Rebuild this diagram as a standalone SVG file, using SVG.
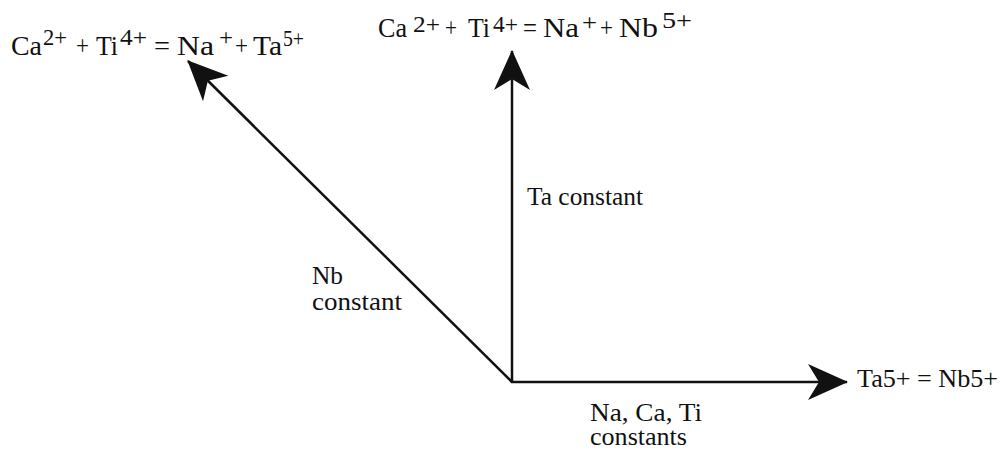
<svg xmlns="http://www.w3.org/2000/svg" width="1004" height="450" viewBox="0 0 1004 450">
<style>
text{font-family:"Liberation Serif","Times New Roman",serif;font-size:28px;fill:#111}
.sup{font-size:24px}
.sup2{font-size:23px}
.lbl{font-size:25px}
.conn{stroke:#111;stroke-width:2.5;fill:none}
</style>
<defs>
<marker id="ah" markerUnits="userSpaceOnUse" viewBox="-42 -20 44 40" refX="0" refY="0" markerWidth="44" markerHeight="40" orient="auto">
<path d="M1,0 L-39,-18 L-28,0 L-39,18 Z" fill="#111"/>
</marker>
</defs>
<rect width="1004" height="450" fill="#fff"/>
<g id="connectors">
<line class="conn" x1="512" y1="382" x2="188" y2="61" marker-end="url(#ah)"/>
<line class="conn" x1="512" y1="383" x2="512" y2="51" marker-end="url(#ah)"/>
<line class="conn" x1="511" y1="382" x2="847" y2="382" marker-end="url(#ah)"/>
</g>
<g id="node-nb-axis">
<text y="55"><tspan x="11" textLength="31" lengthAdjust="spacingAndGlyphs">Ca</tspan><tspan class="sup" x="43" y="45" textLength="24" lengthAdjust="spacingAndGlyphs">2+</tspan><tspan x="76" y="55" textLength="13" lengthAdjust="spacingAndGlyphs">+</tspan><tspan x="96" textLength="22" lengthAdjust="spacingAndGlyphs">Ti</tspan><tspan class="sup" x="120" y="45" textLength="27" lengthAdjust="spacingAndGlyphs">4+</tspan><tspan x="154" y="55" textLength="16" lengthAdjust="spacingAndGlyphs">=</tspan><tspan x="177" textLength="37" lengthAdjust="spacingAndGlyphs">Na</tspan><tspan class="sup" x="219" y="45" textLength="14" lengthAdjust="spacingAndGlyphs">+</tspan><tspan x="235" y="55" textLength="13" lengthAdjust="spacingAndGlyphs">+</tspan><tspan x="253" textLength="29" lengthAdjust="spacingAndGlyphs">Ta</tspan><tspan class="sup" x="283" y="46" textLength="21" lengthAdjust="spacingAndGlyphs">5+</tspan></text>
</g>
<g id="node-ta-axis">
<text y="37"><tspan x="378" textLength="29" lengthAdjust="spacingAndGlyphs">Ca</tspan><tspan class="sup2" x="413" y="32" textLength="27" lengthAdjust="spacingAndGlyphs">2+</tspan><tspan x="445" y="37" textLength="12" lengthAdjust="spacingAndGlyphs">+</tspan><tspan x="468" textLength="22" lengthAdjust="spacingAndGlyphs">Ti</tspan><tspan class="sup2" x="493" y="32" textLength="25" lengthAdjust="spacingAndGlyphs">4+</tspan><tspan x="523" y="37" textLength="14" lengthAdjust="spacingAndGlyphs">=</tspan><tspan x="543" textLength="36" lengthAdjust="spacingAndGlyphs">Na</tspan><tspan class="sup2" x="582" y="30" textLength="15" lengthAdjust="spacingAndGlyphs">+</tspan><tspan x="600" y="37" textLength="13" lengthAdjust="spacingAndGlyphs">+</tspan><tspan x="619" textLength="39" lengthAdjust="spacingAndGlyphs">Nb</tspan><tspan class="sup" x="662" y="28" textLength="30" lengthAdjust="spacingAndGlyphs">5+</tspan></text>
</g>
<g id="node-horizontal">
<text class="lbl" x="857" y="387" textLength="141" lengthAdjust="spacingAndGlyphs">Ta5+ = Nb5+</text>
</g>
<g id="label-ta">
<text class="lbl" x="527" y="205" textLength="116" lengthAdjust="spacingAndGlyphs">Ta constant</text>
</g>
<g id="label-nb">
<text class="lbl" x="312" y="284" textLength="31" lengthAdjust="spacingAndGlyphs">Nb</text>
<text class="lbl" x="312" y="310" textLength="90" lengthAdjust="spacingAndGlyphs">constant</text>
</g>
<g id="label-h">
<text class="lbl" x="590" y="421" textLength="112" lengthAdjust="spacingAndGlyphs">Na, Ca, Ti</text>
<text class="lbl" x="590" y="445" textLength="97" lengthAdjust="spacingAndGlyphs">constants</text>
</g>
</svg>
